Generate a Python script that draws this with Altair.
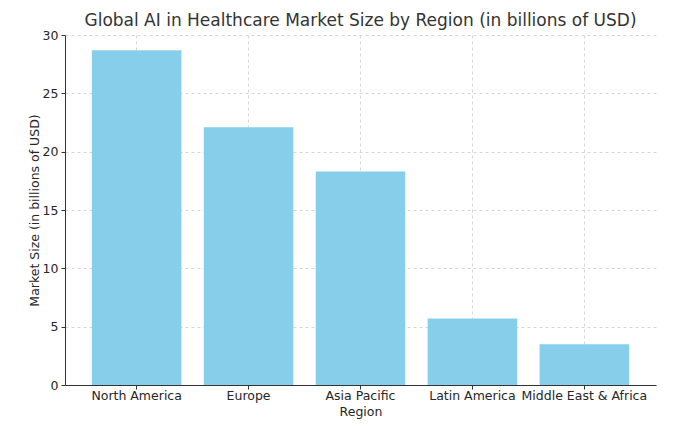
import altair as alt
import pandas as pd

regions = ["North America", "Europe", "Asia Pacific", "Latin America", "Middle East & Africa"]
market_size = [28.7, 22.1, 18.3, 5.7, 3.5]
y_ticks = [0, 5, 10, 15, 20, 25, 30]

df = pd.DataFrame({"Region": regions, "Market Size": market_size})

FONT = "DejaVu Sans"

chart = alt.Chart(df).mark_bar(color="#87CEEB").encode(
    x=alt.X(
        "Region:N",
        sort=regions,
        scale=alt.Scale(paddingInner=0.2, paddingOuter=0.24),
        axis=alt.Axis(
            title="Region",
            labelAngle=0,
            bandPosition=0.5,
            grid=True,
            gridDash=[3, 3],
            gridColor="#cccccc",
            gridWidth=0.8,
            domainColor="#333333",
            tickColor="#333333",
            tickSize=4,
            labelFontSize=12.5,
            labelColor="#262626",
            labelPadding=0,
            titleFontSize=12.5,
            titleFontWeight="normal",
            titleColor="#262626",
            titlePadding=4,
        ),
    ),
    y=alt.Y(
        "Market Size:Q",
        scale=alt.Scale(domain=[0, 30], nice=False),
        axis=alt.Axis(
            title="Market Size (in billions of USD)",
            values=y_ticks,
            grid=True,
            gridDash=[3, 3],
            gridColor="#cccccc",
            gridWidth=0.8,
            domainColor="#333333",
            tickColor="#333333",
            tickSize=4,
            labelFontSize=12.5,
            labelColor="#262626",
            labelPadding=3,
            titleFontSize=12.5,
            titleFontWeight="normal",
            titleColor="#262626",
            titlePadding=1,
        ),
    ),
).properties(
    width=591,
    height=350,
    title=alt.TitleParams(
        "Global AI in Healthcare Market Size by Region (in billions of USD)",
        fontSize=17,
        fontWeight="normal",
        color="#333333",
        font=FONT,
        anchor="middle",
        offset=-1,
    ),
    autosize=alt.AutoSizeParams(type="none"),
    padding={"left": 57, "top": 27, "right": 21, "bottom": 34},
).configure(
    font=FONT,
).configure_view(
    stroke=None,
).configure_axis(
    labelFont=FONT,
    titleFont=FONT,
)

chart.save("out.html", embed_options={"renderer": "svg", "actions": False})
